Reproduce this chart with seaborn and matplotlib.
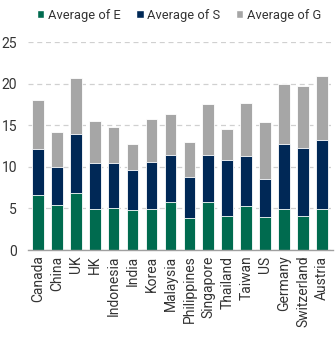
import matplotlib
matplotlib.use("Agg")
import matplotlib.pyplot as plt
import seaborn as sns
import pandas as pd
import numpy as np
from matplotlib.patches import Patch

countries = ["Canada", "China", "UK", "HK", "Indonesia", "India", "Korea", "Malaysia",
             "Philippines", "Singapore", "Thailand", "Taiwan", "US", "Germany",
             "Switzerland", "Austria"]
avg_e = [6.6, 5.4, 6.9, 4.9, 5.0, 4.75, 4.9, 5.8, 3.85, 5.8, 4.1, 5.3, 4.0, 4.9, 4.1, 4.95]
avg_s = [5.5, 4.6, 7.1, 5.6, 5.4, 4.85, 5.7, 5.6, 4.95, 5.6, 6.7, 6.0, 4.5, 7.9, 8.2, 8.25]
avg_g = [5.9, 4.2, 6.7, 5.0, 4.4, 3.1, 5.2, 5.0, 4.2, 6.2, 3.8, 6.4, 6.9, 7.2, 7.4, 7.7]

series_names = ["Average of E", "Average of S", "Average of G"]
colors = ["#006B4F", "#002856", "#A6A6A6"]

sns.set_theme(style="white")
plt.rcParams['font.family'] = ['Roboto', 'DejaVu Sans']

df = pd.DataFrame({"country": countries, "E": avg_e, "S": avg_s, "G": avg_g})

fig = plt.figure(figsize=(3.35, 3.49), dpi=100)
ax = fig.add_axes([28/335, 99/349, 305/335, 208/349])

bottom = np.zeros(len(countries))
for i, (col, c) in enumerate(zip(["E", "S", "G"], colors)):
    top = bottom + df[col].values
    sns.barplot(x=df["country"], y=top, color=c, ax=ax, width=0.62,
                edgecolor="white", linewidth=0.6, saturation=1, legend=False,
                zorder=3 - i)
    bottom = top

ax.set_ylim(0, 25)
ax.set_xlim(-0.52, 15.58)
ax.set_yticks([0, 5, 10, 15, 20, 25])
ax.yaxis.grid(True, linestyle=(0, (4, 3)), color="#D0D0D0", linewidth=0.9)
ax.set_axisbelow(True)
for s in ["top", "right", "left"]:
    ax.spines[s].set_visible(False)
ax.spines["bottom"].set_color("#A0A0A0")
ax.spines["bottom"].set_linewidth(1.0)
ax.spines["bottom"].set_zorder(5)
ax.set_xlabel("")
ax.set_ylabel("")
ax.tick_params(axis="x", rotation=90, labelsize=10, colors="#333333", length=0, pad=4)
ax.tick_params(axis="y", labelsize=10, colors="#333333", length=0, pad=8)

h = [Patch(facecolor=c, edgecolor="white") for c in colors]
fig.legend(h, series_names, loc="center", bbox_to_anchor=(0.535, 1 - 15/349), ncol=3,
           frameon=False, fontsize=9.3, handlelength=0.55, handleheight=0.55,
           handletextpad=0.3, columnspacing=1.2, labelcolor="#333333",
           borderpad=0, borderaxespad=0)

fig.savefig("out.png", dpi=100)
